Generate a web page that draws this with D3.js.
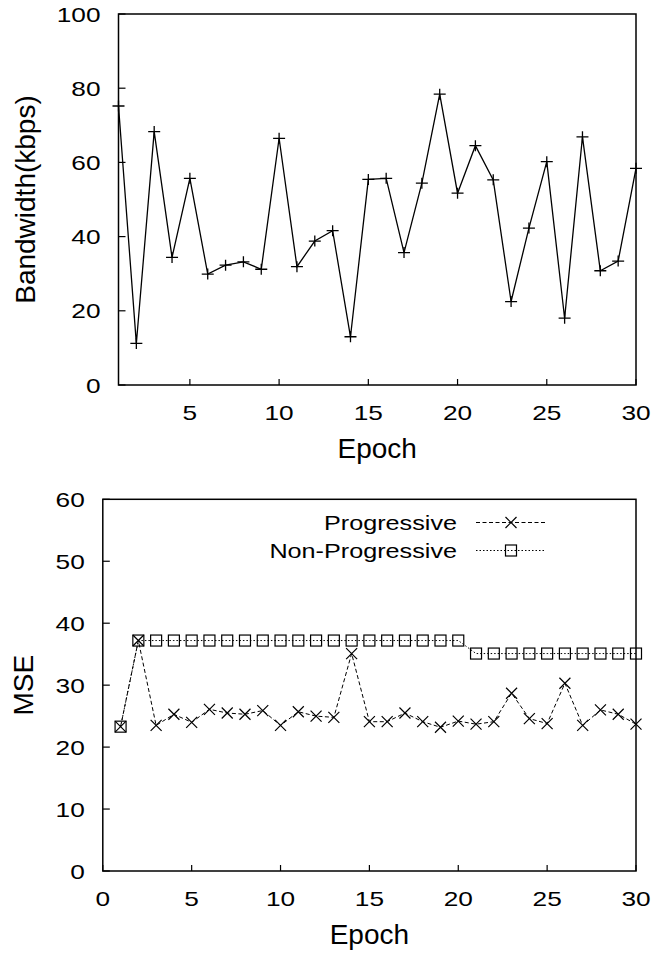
<!DOCTYPE html>
<html>
<head>
<meta charset="utf-8">
<script src="https://cdn.jsdelivr.net/npm/d3@7"></script>
<style>
  html, body { margin: 0; padding: 0; background: #fff; }
  svg { display: block; }
  text { font-family: "Liberation Sans", Arial, Helvetica, sans-serif; fill: #000; }
</style>
</head>
<body>
<svg id="chart" width="656" height="955"></svg>
<script>
// ---------------- DATA ----------------
const epochs = [1,2,3,4,5,6,7,8,9,10,11,12,13,14,15,16,17,18,19,20,21,22,23,24,25,26,27,28,29,30];
const bandwidth = [75.2, 11.2, 68.3, 34.4, 55.7, 29.9, 32.3, 33.2, 31.2, 66.5,
                   31.9, 38.8, 41.6, 13.0, 55.4, 55.7, 35.7, 54.4, 78.4, 51.7,
                   64.5, 55.3, 22.5, 42.3, 60.2, 18.0, 66.9, 30.8, 33.4, 58.4];
const progressive = [23.3, 37.2, 23.5, 25.3, 24.0, 26.1, 25.5, 25.3, 25.9, 23.5,
                     25.7, 25.0, 24.8, 35.1, 24.1, 24.1, 25.5, 24.1, 23.2, 24.2,
                     23.7, 24.1, 28.7, 24.6, 23.8, 30.3, 23.5, 26.0, 25.3, 23.7];
const nonProgressive = [23.3, 37.2, 37.2, 37.2, 37.2, 37.2, 37.2, 37.2, 37.2, 37.2,
                        37.2, 37.2, 37.2, 37.2, 37.2, 37.2, 37.2, 37.2, 37.2, 37.2,
                        35.1, 35.1, 35.1, 35.1, 35.1, 35.1, 35.1, 35.1, 35.1, 35.1];
const topXTicks = [5, 10, 15, 20, 25, 30];
const topYTicks = [0, 20, 40, 60, 80, 100];
const botXTicks = [0, 5, 10, 15, 20, 25, 30];
const botYTicks = [0, 10, 20, 30, 40, 50, 60];
const seriesNames = ["Progressive", "Non-Progressive"];

// ---------------- DRAW ----------------
const svg = d3.select("#chart");
const TICK_FS = 21, TICK_SX = 1.25;
const LABEL_FS = 28;

function stretchedText(g, x, y, str, fs, sx, anchor) {
  return g.append("text")
    .attr("transform", `translate(${x},${y}) scale(${sx},1)`)
    .attr("text-anchor", anchor)
    .style("font-size", fs + "px")
    .text(str);
}

function frame(g, x, y, xTicks, yTicks, xLabelBase) {
  const [x0, x1] = x.range();
  const [y0, y1] = y.range();
  // ticks (inward, left and bottom only)
  yTicks.forEach(t => {
    g.append("line").attr("x1", x0).attr("x2", x0 + 7)
      .attr("y1", y(t)).attr("y2", y(t))
      .attr("stroke", "#000").attr("stroke-width", 1.2);
    stretchedText(g, x0 - 18, y(t) + 7.5, String(t), TICK_FS, TICK_SX, "end");
  });
  xTicks.forEach(t => {
    g.append("line").attr("x1", x(t)).attr("x2", x(t))
      .attr("y1", y0).attr("y2", y0 - 6)
      .attr("stroke", "#000").attr("stroke-width", 1.2);
    stretchedText(g, x(t), xLabelBase, String(t), TICK_FS, TICK_SX, "middle");
  });
  g.append("rect").attr("x", x0).attr("y", y1)
    .attr("width", x1 - x0).attr("height", y0 - y1)
    .attr("fill", "none").attr("stroke", "#000").attr("stroke-width", 1.5);
}

// ----- Top chart -----
const gTop = svg.append("g");
const xTop = d3.scaleLinear().domain([1, 30]).range([118.5, 636]);
const yTop = d3.scaleLinear().domain([0, 100]).range([385, 14]);
frame(gTop, xTop, yTop, topXTicks, topYTicks, 420);

const lineTop = d3.line().x((d, i) => xTop(epochs[i])).y(d => yTop(d));
gTop.append("path").datum(bandwidth)
  .attr("d", lineTop).attr("fill", "none")
  .attr("stroke", "#000").attr("stroke-width", 1.3);
bandwidth.forEach((v, i) => {
  const cx = xTop(epochs[i]), cy = yTop(v);
  gTop.append("path")
    .attr("d", `M${cx - 6},${cy}H${cx + 6}M${cx},${cy - 5.5}V${cy + 5.5}`)
    .attr("stroke", "#000").attr("stroke-width", 1.3).attr("fill", "none");
});
gTop.append("text")
  .attr("x", (118.5 + 636) / 2).attr("y", 458)
  .attr("text-anchor", "middle").style("font-size", LABEL_FS + "px")
  .text("Epoch");
gTop.append("text")
  .attr("transform", `translate(35,${(385 + 14) / 2}) rotate(-90)`)
  .attr("text-anchor", "middle").style("font-size", LABEL_FS + "px")
  .text("Bandwidth(kbps)");

// ----- Bottom chart -----
const gBot = svg.append("g");
const xBot = d3.scaleLinear().domain([0, 30]).range([102.8, 636]);
const yBot = d3.scaleLinear().domain([0, 60]).range([871, 499.3]);
frame(gBot, xBot, yBot, botXTicks, botYTicks, 906);

function xMark(g, cx, cy, s) {
  g.append("path")
    .attr("d", `M${cx - s},${cy - s}L${cx + s},${cy + s}M${cx - s},${cy + s}L${cx + s},${cy - s}`)
    .attr("stroke", "#000").attr("stroke-width", 1.2).attr("fill", "none");
}
function sqMark(g, cx, cy, s) {
  g.append("rect").attr("x", cx - s).attr("y", cy - s)
    .attr("width", 2 * s).attr("height", 2 * s)
    .attr("fill", "none").attr("stroke", "#000").attr("stroke-width", 1.2);
}

const lineBot = d3.line().x((d, i) => xBot(epochs[i])).y(d => yBot(d));
// Non-progressive (dotted, squares)
gBot.append("path").datum(nonProgressive)
  .attr("d", lineBot).attr("fill", "none")
  .attr("stroke", "#000").attr("stroke-width", 1).attr("stroke-dasharray", "1.5,2");
nonProgressive.forEach((v, i) => sqMark(gBot, xBot(epochs[i]), yBot(v), 5.5));
// Progressive (dashed, x)
gBot.append("path").datum(progressive)
  .attr("d", lineBot).attr("fill", "none")
  .attr("stroke", "#000").attr("stroke-width", 1).attr("stroke-dasharray", "4,2.5");
progressive.forEach((v, i) => xMark(gBot, xBot(epochs[i]), yBot(v), 5.5));

// Legend
const legRows = [522.5, 550.5];
seriesNames.forEach((name, i) => {
  const yy = legRows[i];
  stretchedText(gBot, 457, yy + 7.5, name, 21, 1.2, "end");
  gBot.append("line").attr("x1", 476).attr("x2", 545)
    .attr("y1", yy).attr("y2", yy)
    .attr("stroke", "#000").attr("stroke-width", 1)
    .attr("stroke-dasharray", i === 0 ? "4,2.5" : "1.5,2");
  if (i === 0) xMark(gBot, 511, yy, 5.5); else sqMark(gBot, 511, yy, 5.5);
});

gBot.append("text")
  .attr("x", (102.8 + 636) / 2).attr("y", 944)
  .attr("text-anchor", "middle").style("font-size", LABEL_FS + "px")
  .text("Epoch");
gBot.append("text")
  .attr("transform", `translate(33,${(871 + 499.3) / 2}) rotate(-90)`)
  .attr("text-anchor", "middle").style("font-size", LABEL_FS + "px")
  .text("MSE");
</script>
</body>
</html>
